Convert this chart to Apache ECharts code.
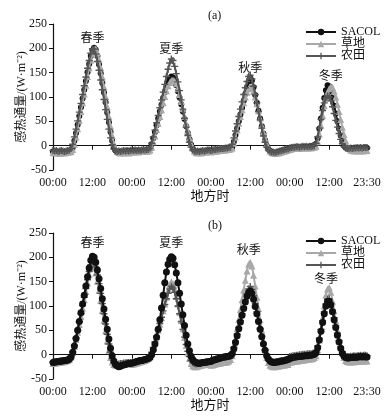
<!DOCTYPE html>
<html><head><meta charset="utf-8">
<script src="https://cdn.jsdelivr.net/npm/echarts@6/dist/echarts.min.js"></script>
<style>html,body{margin:0;padding:0;background:#fff}#c{width:385px;height:416px}</style>
</head><body><div id="c"></div>
<script>
// ---- tick labels / categories ----
const yTicks = [-50, 0, 50, 100, 150, 200, 250];
const xTickLabels = ['00:00','12:00','00:00','12:00','00:00','12:00','00:00','12:00','23:30'];
const seriesNames = ['SACOL', '草地', '农田'];
const seasonNames = ['春季', '夏季', '秋季', '冬季'];
// season label anchors [category index, value]
const seasonPosA = [[24, 219], [72, 196], [120, 157], [169, 141]];
const seasonPosB = [[24, 227], [72, 227], [119, 214], [166, 153]];

// ---- panel (a) values, 4 seasons x 48 half-hours ----
const a_SACOL = [
 -12,-13,-12,-14,-13,-12,-13,-14,-13,-12,-12,-10, -4,10,26,43,61,79,97,115,133,151,168,184,
 196,201,197,184,167,149,129,109,89,68,48,28, 10,-4,-10,-12,-13,-12,-13,-12,-12,-11,-12,-11,
 -11,-10,-11,-12,-10,-11,-10,-11,-10,-9,-10,-7, 3,15,28,42,56,70,84,98,110,121,131,138,
 142,140,133,124,112,99,85,70,55,40,26,13, 2,-6,-11,-13,-14,-13,-12,-13,-12,-11,-10,-10,
 -12,-11,-10,-10,-9,-9,-8,-8,-8,-7,-7,-6, -6,-4,8,22,36,50,64,78,92,106,120,132,
 140,134,120,104,88,72,56,40,25,11,0,-7, -11,-13,-14,-15,-14,-13,-12,-11,-10,-9,-8,-7,
 -6,-5,-4,-4,-3,-3,-4,-3,-3,-2,-3,-3, -2,-1,0,1,4,15,35,56,78,98,114,124,
 122,112,98,82,66,50,35,21,9,0,-4,-6, -7,-6,-7,-6,-5,-6,-5,-6,-5,-5,-4,-5
];
const a_grass = [
 -14,-15,-14,-15,-16,-15,-14,-15,-14,-13,-13,-12, -8,3,18,35,52,70,88,106,124,142,160,176,
 189,197,199,191,177,160,141,121,101,80,60,40, 21,5,-6,-12,-14,-15,-14,-15,-14,-14,-15,-14,
 -13,-12,-13,-12,-13,-12,-12,-11,-12,-11,-11,-9, -3,8,20,33,46,60,74,88,101,113,123,130,
 134,135,133,127,117,105,91,76,60,45,30,17, 5,-5,-11,-14,-15,-14,-15,-14,-13,-13,-12,-12,
 -13,-12,-12,-11,-11,-10,-10,-9,-9,-9,-8,-8, -7,-5,5,18,32,46,60,74,88,100,110,117,
 120,119,112,100,86,72,57,42,28,15,4,-5, -11,-14,-15,-16,-15,-15,-14,-13,-12,-11,-10,-9,
 -8,-7,-6,-6,-5,-5,-6,-5,-5,-4,-5,-5, -4,-5,-4,-3,-1,8,24,42,62,82,98,110,
 117,121,120,112,100,85,70,54,38,23,10,0, -6,-9,-10,-11,-10,-11,-10,-11,-10,-11,-10,-10
];
const a_farm = [
 -10,-11,-10,-12,-11,-10,-11,-12,-11,-10,-9,-6, 3,18,34,51,69,87,105,123,141,159,175,190,
 199,198,188,173,155,135,115,95,74,54,34,16, 2,-7,-11,-12,-11,-12,-11,-10,-11,-10,-11,-10,
 -9,-10,-9,-10,-9,-10,-9,-8,-9,-8,-8,-5, 5,18,32,47,62,78,94,110,126,142,157,170,
 178,175,163,148,131,113,94,75,56,38,21,7, -3,-9,-11,-12,-11,-12,-11,-10,-11,-10,-9,-9,
 -10,-9,-8,-8,-7,-7,-6,-6,-6,-5,-5,-4, -3,3,16,30,45,60,75,90,105,119,132,142,
 145,137,122,105,88,70,53,36,20,7,-3,-9, -12,-13,-13,-14,-13,-12,-11,-10,-9,-8,-7,-7,
 -5,-4,-3,-3,-2,-2,-3,-2,-1,-2,-1,-2, -1,-2,-1,0,5,18,36,54,72,88,98,102,
 100,92,80,66,52,38,25,13,4,-2,-5,-6, -6,-5,-6,-5,-5,-4,-5,-4,-5,-4,-4,-4
];

// ---- panel (b) values ----
const b_SACOL = [
 -16,-15,-15,-14,-14,-13,-13,-12,-12,-11,-9,-5, 5,18,33,50,68,86,104,122,141,160,178,194,
 202,200,190,174,156,136,115,94,73,52,32,13, -2,-13,-20,-23,-25,-24,-22,-21,-20,-19,-18,-18,
 -17,-16,-15,-14,-13,-12,-12,-11,-10,-9,-8,-6, 0,10,22,36,52,72,96,122,148,170,186,196,
 201,198,185,168,148,126,104,82,60,40,22,8, -3,-10,-14,-16,-17,-18,-17,-16,-16,-15,-15,-14,
 -14,-12,-11,-10,-9,-8,-7,-6,-5,-5,-4,-3, -2,2,12,25,39,53,67,81,95,108,120,128,
 131,126,114,99,84,68,52,37,22,9,-2,-9, -13,-15,-16,-16,-15,-15,-14,-13,-13,-12,-11,-10,
 -8,-7,-6,-5,-5,-4,-4,-3,-3,-2,-2,-2, -1,-1,0,1,4,14,30,48,66,84,100,109,
 110,102,88,72,56,40,26,13,3,-3,-6,-7, -7,-6,-6,-5,-6,-5,-5,-4,-5,-4,-5,-5
];
const b_grass = [
 -18,-17,-17,-16,-16,-15,-15,-14,-13,-12,-10,-5, 4,17,31,46,62,79,96,113,130,148,164,178,
 185,180,168,151,132,112,91,70,49,28,9,-6, -15,-20,-21,-21,-20,-19,-19,-18,-18,-18,-17,-17,
 -20,-19,-18,-17,-16,-15,-14,-13,-12,-10,-8,-4, 4,14,25,37,50,63,76,90,104,118,132,144,
 150,146,135,120,104,87,70,53,36,19,4,-8, -18,-23,-25,-25,-24,-23,-22,-21,-20,-20,-19,-19,
 -22,-21,-20,-19,-18,-18,-17,-16,-16,-15,-15,-13, -10,-2,14,33,53,73,93,113,133,153,172,186,
 190,182,163,141,118,95,72,50,29,10,-6,-16, -22,-24,-25,-25,-24,-24,-23,-22,-22,-21,-20,-20,
 -16,-15,-14,-14,-13,-13,-12,-12,-11,-11,-10,-10, -9,-9,-8,-6,-2,10,30,52,76,100,122,135,
 138,128,110,90,70,50,32,16,4,-6,-12,-14, -15,-15,-14,-15,-14,-14,-13,-14,-13,-13,-13,-13
];
const b_farm = [
 -15,-15,-14,-14,-13,-13,-12,-12,-11,-10,-8,-3, 6,19,34,50,67,84,101,118,136,154,171,185,
 192,190,180,164,146,126,105,84,63,42,22,5, -8,-16,-19,-20,-19,-18,-18,-17,-17,-16,-16,-16,
 -18,-17,-16,-15,-14,-13,-12,-11,-10,-9,-7,-3, 5,15,26,38,51,64,77,90,103,115,126,135,
 140,137,128,115,100,84,68,52,36,21,7,-4, -12,-16,-18,-19,-18,-17,-17,-16,-16,-15,-15,-14,
 -12,-11,-10,-9,-8,-7,-6,-6,-5,-4,-4,-2, -1,4,15,28,42,56,70,84,98,112,125,135,
 140,134,121,105,88,71,54,38,23,10,-1,-8, -12,-14,-15,-15,-14,-14,-13,-12,-12,-11,-10,-9,
 -4,-3,-2,-2,-1,-1,0,0,1,1,1,2, 2,2,3,4,7,18,34,52,70,88,104,114,
 115,106,92,76,60,44,29,16,6,0,-3,-4, -4,-3,-3,-2,-3,-2,-2,-1,-2,-1,-1,-2
];

// categories: half-hour steps over four days
const categories = [];
for (let d = 0; d < 4; d++) for (let h = 0; h < 48; h++) {
  const hh = String(Math.floor(h / 2)).padStart(2, '0');
  categories.push(hh + ':' + (h % 2 ? '30' : '00'));
}
const tickIdx = i => (i % 24 === 0) || i === categories.length - 1;

const SERIF = "'Liberation Serif','Times New Roman','Noto Sans CJK SC',serif";
const colors = ['#111111', '#a8a8a8', '#555555'];
const symbols = ['circle', 'triangle', 'path://M4,0h2v4h4v2h-4v4h-2v-4h-4v-2h4z'];

function xAxis(gi) {
  return {
    gridIndex: gi, type: 'category', data: categories, boundaryGap: false,
    name: '地方时', nameLocation: 'middle', nameGap: 20, nameMoveOverlap: false,
    nameTextStyle: { fontFamily: SERIF, fontSize: 13, color: '#111' },
    axisLine: { lineStyle: { color: '#111', width: 1.2 } },
    axisTick: { interval: tickIdx, length: 4, lineStyle: { color: '#111' } },
    axisLabel: { interval: tickIdx, margin: 7, fontFamily: SERIF, fontSize: 12, color: '#111',
      formatter: (v, i) => i === categories.length - 1 ? xTickLabels[8] : xTickLabels[Math.round(i / 24)] },
    splitLine: { show: false }
  };
}
function yAxis(gi) {
  return {
    gridIndex: gi, type: 'value', min: yTicks[0], max: yTicks[yTicks.length - 1], interval: 50,
    name: '感热通量/(W·m⁻²)', nameLocation: 'middle', nameGap: 25, nameMoveOverlap: false,
    nameTextStyle: { fontFamily: SERIF, fontSize: 12, color: '#111' },
    axisLine: { show: true, lineStyle: { color: '#111', width: 1.2 } },
    axisTick: { show: true, length: 4, lineStyle: { color: '#111' } },
    axisLabel: { margin: 6, fontFamily: SERIF, fontSize: 12, color: '#111' },
    splitLine: { show: false }
  };
}
function mkSeries(gi, k, data, seasonPos) {
  const zA = [2, 3, 4], zB = [4, 2, 3];
  const sizeA = [6, 7, 7], sizeB = [7, 7, 7];
  const s = {
    name: seriesNames[k], type: 'line', xAxisIndex: gi, yAxisIndex: gi,
    data: data, symbol: symbols[k], symbolSize: (gi ? sizeB : sizeA)[k], showAllSymbol: true,
    color: colors[k], lineStyle: { color: colors[k], width: 2 },
    itemStyle: { color: colors[k] }, animation: false, z: (gi ? zB : zA)[k]
  };
  if (seasonPos) {
    s.markPoint = {
      symbol: 'circle', symbolSize: 1, itemStyle: { color: 'rgba(0,0,0,0)' }, animation: false,
      label: { show: true, position: 'inside', formatter: p => p.name, fontFamily: SERIF, fontSize: 12, color: '#111' },
      data: seasonNames.map((n, i) => ({ name: n, coord: [seasonPos[i][0], seasonPos[i][1]] }))
    };
  }
  return s;
}
function legend(top) {
  return {
    data: seriesNames, orient: 'vertical', left: 300, top: top,
    itemWidth: 30, itemHeight: 8, itemGap: 0,
    textStyle: { fontFamily: SERIF, fontSize: 12, color: '#111', lineHeight: 12, padding: [0, 0, 0, 0] }
  };
}

const chart = echarts.init(document.getElementById('c'), null, { renderer: 'canvas' });
chart.setOption({
  backgroundColor: '#ffffff',
  animation: false,
  title: [
    { text: '(a)', left: 203, top: 5, textStyle: { fontFamily: SERIF, fontSize: 12, fontWeight: 'normal', color: '#111' } },
    { text: '(b)', left: 203, top: 215, textStyle: { fontFamily: SERIF, fontSize: 12, fontWeight: 'normal', color: '#111' } }
  ],
  legend: [legend(21), legend(230)],
  grid: [
    { left: 53, right: 18, top: 24, height: 146 },
    { left: 53, right: 18, top: 233, height: 146 }
  ],
  xAxis: [xAxis(0), xAxis(1)],
  yAxis: [yAxis(0), yAxis(1)],
  series: [
    mkSeries(0, 0, a_SACOL, seasonPosA), mkSeries(0, 1, a_grass), mkSeries(0, 2, a_farm),
    mkSeries(1, 0, b_SACOL, seasonPosB), mkSeries(1, 1, b_grass), mkSeries(1, 2, b_farm)
  ]
});
</script>
</body></html>
